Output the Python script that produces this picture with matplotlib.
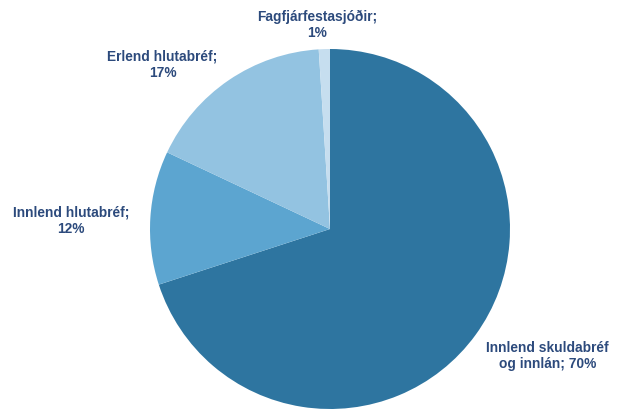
import matplotlib.pyplot as plt

labels = ['Innlend skuldabréf\nog innlán; 70%', 'Innlend hlutabréf;\n12%',
          'Erlend hlutabréf;\n17%', 'Fagfjárfestasjóðir;\n1%']
values = [70, 12, 17, 1]
colors = ['#2E75A0', '#5CA5D0', '#93C3E1', '#C6DEEF']

# label centres in pie-radius units
label_pos = [(1.21, -0.70), (-1.44, 0.05), (-0.93, 0.917), (-0.072, 1.139)]

fig = plt.figure(figsize=(6.17, 4.10), dpi=100)
ax = fig.add_axes([0, 0, 1, 1])

ax.pie(values, colors=colors, startangle=90, counterclock=False,
       radius=1.0, wedgeprops=dict(linewidth=0))

for lab, (x, y) in zip(labels, label_pos):
    ax.text(x, y, lab, ha='center', va='center', fontsize=9.9,
            fontweight='bold', color='#2C4A7C', family='Liberation Sans',
            linespacing=1.2)

# pie centre at (330, 230) px from top-left, radius 180 px
r = 180.0
ax.set_xlim(-330 / r, (617 - 330) / r)
ax.set_ylim(-(410 - 230) / r, 230 / r)
ax.set_aspect('auto')
ax.axis('off')

plt.savefig('out.png', dpi=100)
